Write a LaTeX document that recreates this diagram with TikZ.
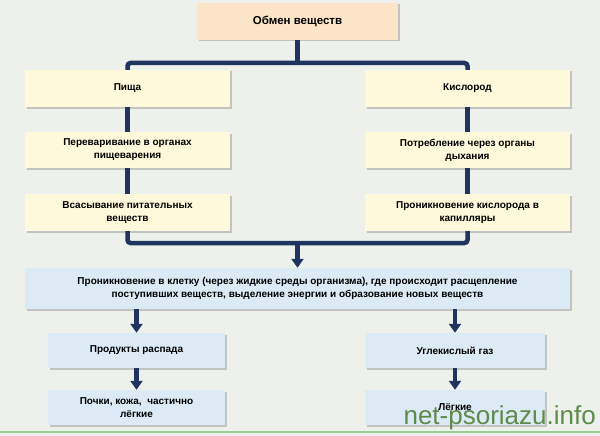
\documentclass[tikz,border=0pt]{standalone}
\usepackage{fontspec}
\setmainfont{Liberation Sans}
\usetikzlibrary{positioning,arrows.meta,shadows}
\definecolor{bgc}{HTML}{EEF0EB}
\definecolor{navy}{HTML}{1F3560}
\definecolor{peach}{HTML}{FBE4C8}
\definecolor{cream}{HTML}{FEF9DA}
\definecolor{skyb}{HTML}{DCEAF6}
\definecolor{wmark}{HTML}{5E8A4A}
\begin{document}
\begin{tikzpicture}[x=1pt,y=-1pt,font=\bfseries\fontsize{10}{13}\selectfont,
  box/.style={rectangle,inner sep=2pt,align=center,drop shadow={shadow xshift=1.5pt,shadow yshift=-1.5pt,fill=black!40}},
  link/.style={navy,line width=4.5pt},
  arr/.style={link,-{Triangle[width=12pt,length=9pt]}}]
\fill[bgc] (0,0) rectangle (600,436);
\useasboundingbox (0,0) rectangle (600,436);
\draw[green!50!black!40,line width=2pt] (0,432) -- (600,432);
% top level
\node[box,fill=peach,minimum width=201pt,minimum height=37pt,font=\bfseries\fontsize{11.5}{13}\selectfont] (obmen) at (297.5,21.5) {Обмен веществ};
% left column
\node[box,fill=cream,minimum width=205pt,minimum height=37pt] (pishcha) at (127.5,88.5) {Пища};
\node[box,fill=cream,minimum width=205pt,minimum height=36pt] (perevar) at (127.5,150) {Переваривание в органах\\пищеварения};
\node[box,fill=cream,minimum width=205pt,minimum height=37pt] (vsas) at (127.5,212.5) {Всасывание питательных\\веществ};
% right column
\node[box,fill=cream,minimum width=205pt,minimum height=37pt] (kislorod) at (467.5,88.5) {Кислород};
\node[box,fill=cream,minimum width=205pt,minimum height=36pt] (potreb) at (467.5,150) {Потребление через органы\\дыхания};
\node[box,fill=cream,minimum width=205pt,minimum height=37pt] (pronik) at (467.5,212.5) {Проникновение кислорода в\\капилляры};
% cell
\node[box,fill=skyb,minimum width=545pt,minimum height=41pt] (kletka) at (297.5,288.5) {Проникновение в клетку (через жидкие среды организма), где происходит расщепление\\поступивших веществ, выделение энергии и образование новых веществ};
\node[box,fill=skyb,minimum width=177pt,minimum height=35pt] (produkty) at (136.5,350.5) {Продукты распада};
\node[box,fill=skyb,minimum width=177pt,minimum height=35pt] (pochki) at (136.5,407.5) {Почки, кожа,\ \ частично\\лёгкие};
\node[box,fill=skyb,minimum width=180pt,minimum height=35pt] (ugl) at (455,350.5) {Углекислый газ};
\node[box,fill=skyb,minimum width=180pt,minimum height=35pt] (legkie) at (455,407.5) {Лёгкие};
% connectors
\coordinate (top) at (obmen.south |- 0,63);
\coordinate (bot) at (obmen.south |- 0,243);
\draw[link,rounded corners=3pt] (pishcha.north) |- (top) -| (kislorod.north);
\draw[link] (obmen.south) -- (top);
\draw[link] (pishcha) -- (perevar);
\draw[link] (perevar) -- (vsas);
\draw[link] (kislorod) -- (potreb);
\draw[link] (potreb) -- (pronik);
\draw[link,rounded corners=3pt] (vsas.south) |- (bot) -| (pronik.south);
\draw[arr] (bot) -- (kletka.north);
\draw[arr] (kletka.south -| produkty) -- (produkty);
\draw[arr] (produkty) -- (pochki);
\draw[arr] (kletka.south -| ugl) -- (ugl);
\draw[arr] (ugl) -- (legkie);
\node[wmark,font=\fontsize{26}{26}\selectfont,anchor=south east,inner sep=2pt] (wm) at (598,432) {net-psoriazu.info};
\end{tikzpicture}
\end{document}
